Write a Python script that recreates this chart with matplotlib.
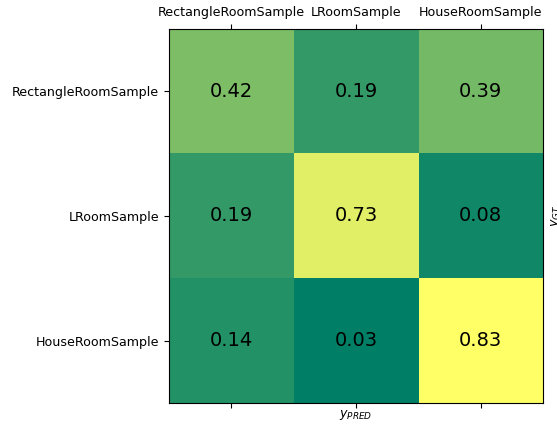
import matplotlib
matplotlib.use("Agg")
import matplotlib.pyplot as plt
import numpy as np

classes = ["RectangleRoomSample", "LRoomSample", "HouseRoomSample"]
row_rect = [0.42, 0.19, 0.39]
row_l = [0.19, 0.73, 0.08]
row_house = [0.14, 0.03, 0.83]

matrix = np.array([row_rect, row_l, row_house])

fig = plt.figure(figsize=(5.57, 4.25), dpi=100)
ax = fig.add_axes([0.3034, 0.0518, 0.6715, 0.88])
ax.imshow(matrix, cmap="summer", aspect="auto")

for i in range(matrix.shape[0]):
    for j in range(matrix.shape[1]):
        ax.text(j, i, f"{matrix[i, j]:.2f}", ha="center", va="center",
                fontsize=14, color="black")

ax.set_xticks(range(len(classes)))
ax.set_yticks(range(len(classes)))
ax.set_xticklabels(classes)
ax.set_yticklabels(classes)
ax.tick_params(axis="both", labelsize=9.1)
ax.tick_params(axis="x", top=True, labeltop=True, bottom=True, labelbottom=False)
ax.set_xlabel("$y_{PRED}$", fontsize=9.1, labelpad=0)
ax.yaxis.set_label_position("right")
ax.set_ylabel("$y_{GT}$", fontsize=9.1)

fig.savefig("out.png", dpi=100)
